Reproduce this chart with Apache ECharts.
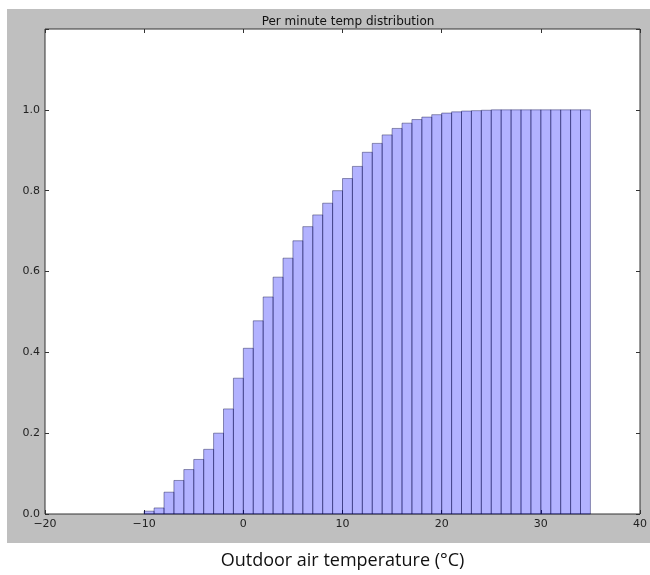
<!DOCTYPE html>
<html>
<head>
<meta charset="utf-8">
<script src="https://cdn.jsdelivr.net/npm/echarts@6/dist/echarts.min.js"></script>
<style>html,body{margin:0;padding:0;background:#fff;}#c{width:650px;height:575px;}</style>
</head>
<body>
<div id="c"></div>
<script>
// bin start temperatures (°C), width 1
var binStarts = [-10,-9,-8,-7,-6,-5,-4,-3,-2,-1,0,1,2,3,4,5,6,7,8,9,10,11,12,13,14,15,16,17,18,19,20,21,22,23,24,25,26,27,28,29,30,31,32,33,34];
var binWidth = 1;
// cumulative fraction
var cumValues = [0.007,0.015,0.054,0.083,0.110,0.135,0.160,0.200,0.260,0.336,0.410,0.478,0.537,0.586,0.633,0.676,0.711,0.740,0.769,0.800,0.830,0.860,0.895,0.917,0.938,0.954,0.967,0.976,0.982,0.988,0.992,0.995,0.997,0.998,0.999,1.0,1.0,1.0,1.0,1.0,1.0,1.0,1.0,1.0,1.0];
var xTicks = [-20,-10,0,10,20,30,40];
var yTicks = [0.0,0.2,0.4,0.6,0.8,1.0];

var data = binStarts.map(function(s,i){return [s, s+binWidth, cumValues[i]];});
var chart = echarts.init(document.getElementById('c'));
function fmtX(v){return String(v).replace('-', '\u2212');}
var tickFont = {fontFamily:'DejaVu Sans', fontSize:11, color:'#222'};
var noLine = {show:false, onZero:false};
chart.setOption({
  animation:false,
  backgroundColor:'#fff',
  graphic:[{type:'rect', z:-10, shape:{x:7,y:9,width:643,height:534}, style:{fill:'#bfbfbf'}, silent:true}],
  title:{text:'Per minute temp distribution', left:343, textAlign:'center', top:11,
    textStyle:{fontFamily:'DejaVu Sans', fontSize:12, fontWeight:'normal', color:'#111'}},
  grid:{left:45, top:29, width:597, height:490, show:true, backgroundColor:'#fff', borderColor:'#333', borderWidth:1},
  xAxis:[{type:'value', min:-20, max:40, interval:10, position:'bottom',
    name:'Outdoor air temperature (\u00b0C)', nameLocation:'middle', nameGap:38,
    nameTextStyle:{fontFamily:'Open Sans', fontSize:18, color:'#111'},
    axisLine:noLine, splitLine:{show:false},
    axisTick:{inside:true, length:4, lineStyle:{color:'#333'}},
    axisLabel:Object.assign({formatter:fmtX, margin:5}, tickFont)},
   {type:'value', min:-20, max:40, interval:10, position:'top',
    axisLine:noLine, splitLine:{show:false}, axisLabel:{show:false},
    axisTick:{inside:true, length:4, lineStyle:{color:'#333'}}}],
  yAxis:[{type:'value', min:0, max:1.2, interval:0.2, position:'left',
    axisLine:noLine, splitLine:{show:false},
    axisTick:{inside:true, length:4, lineStyle:{color:'#333'}},
    axisLabel:Object.assign({margin:5, formatter:function(v){return v>1.1?'':v.toFixed(1);}}, tickFont)},
   {type:'value', min:0, max:1.2, interval:0.2, position:'right',
    axisLine:noLine, splitLine:{show:false}, axisLabel:{show:false},
    axisTick:{inside:true, length:4, lineStyle:{color:'#333'}}}],
  series:[{type:'custom', xAxisIndex:0, yAxisIndex:0, data:data,
    encode:{x:[0,1], y:2},
    renderItem:function(params, api){
      var p0 = api.coord([api.value(0), api.value(2)]);
      var p1 = api.coord([api.value(1), 0]);
      return {type:'rect', shape:{x:p0[0], y:p0[1], width:p1[0]-p0[0], height:p1[1]-p0[1]},
        style:{fill:'rgba(0,0,255,0.3)', stroke:'rgba(0,0,60,0.4)', lineWidth:1}};
    }}]
});
</script>
</body>
</html>
